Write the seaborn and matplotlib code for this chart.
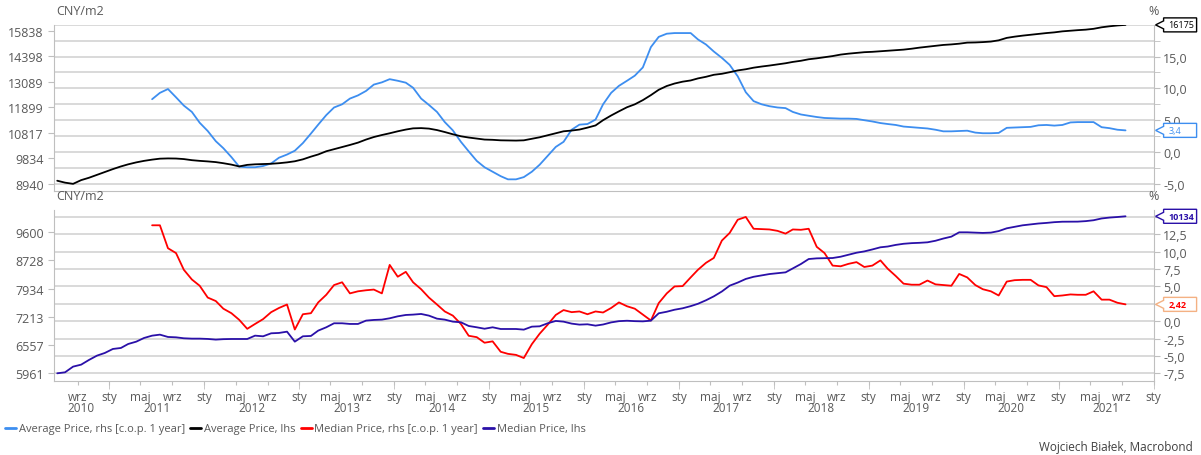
import numpy as np
import pandas as pd
import seaborn as sns
import matplotlib.pyplot as plt
import matplotlib.dates as mdates
from matplotlib.patches import Polygon
from matplotlib.lines import Line2D
from matplotlib.transforms import IdentityTransform, blended_transform_factory
from matplotlib.ticker import FixedLocator, FixedFormatter, MultipleLocator, FuncFormatter, NullLocator

sns.set_style('white')
plt.rcParams['font.family'] = ['Open Sans', 'DejaVu Sans']

# monthly data, Jun 2010 - Sep 2021
dates = pd.date_range('2010-06-01', periods=136, freq='MS') + pd.Timedelta(days=14)

avg_price = [
    9050, 8985, 8945, 9070, 9150, 9250, 9350, 9450, 9545, 9620,
    9690, 9745, 9790, 9825, 9834, 9830, 9810, 9770, 9745, 9725,
    9700, 9660, 9610, 9545, 9600, 9620, 9630, 9640, 9660, 9690,
    9730, 9800, 9900, 9980, 10100, 10180, 10260, 10340, 10430, 10550,
    10650, 10730, 10800, 10880, 10950, 11000, 11010, 10990, 10930, 10850,
    10760, 10680, 10630, 10590, 10550, 10540, 10520, 10515, 10510, 10520,
    10580, 10640, 10720, 10800, 10880, 10910, 10950, 11030, 11120, 11340,
    11540, 11720, 11900, 12030, 12220, 12450, 12700, 12880, 13000, 13090,
    13150, 13250, 13330, 13430, 13480, 13560, 13650, 13710, 13790, 13850,
    13900, 13960, 14020, 14090, 14150, 14230, 14280, 14340, 14400, 14480,
    14530, 14570, 14610, 14630, 14660, 14690, 14720, 14750, 14800, 14860,
    14910, 14960, 15010, 15040, 15080, 15140, 15150, 15170, 15200, 15270,
    15410, 15480, 15540, 15590, 15640, 15690, 15730, 15790, 15830, 15860,
    15890, 15940, 16030, 16090, 16140, 16175,
]

# y/y change, from Jun 2011
avg_yoy = [
    8.3, 9.3, 9.9, 8.6, 7.3, 6.3, 4.6, 3.3, 1.7, 0.6,
    -0.8, -2.3, -2.4, -2.4, -2.2, -1.8, -0.9, -0.4, 0.2, 1.4,
    2.9, 4.3, 5.8, 7.0, 7.5, 8.4, 8.9, 9.6, 10.6, 10.95,
    11.45, 11.2, 10.9, 10.1, 8.4, 7.4, 6.3, 4.7, 3.4, 1.6,
    0.1, -1.4, -2.4, -3.1, -3.8, -4.3, -4.3, -3.95, -3.1, -2.0,
    -0.6, 0.8, 1.6, 3.5, 4.3, 4.4, 5.1, 7.5, 9.3, 10.4,
    11.2, 12.0, 13.3, 16.5, 18.1, 18.6, 18.7, 18.7, 18.7, 17.7,
    16.9, 15.8, 14.8, 13.7, 11.9, 9.4, 8.0, 7.5, 7.2, 7.0,
    6.9, 6.3, 5.9, 5.7, 5.5, 5.35, 5.3, 5.25, 5.25, 5.2,
    5.0, 4.8, 4.55, 4.4, 4.25, 4.0, 3.9, 3.8, 3.7, 3.5,
    3.25, 3.25, 3.3, 3.35, 3.05, 2.95, 2.95, 3.0, 3.8, 3.85,
    3.9, 3.95, 4.2, 4.25, 4.15, 4.25, 4.65, 4.7, 4.7, 4.7,
    3.9, 3.75, 3.5, 3.4,
]

median_price = [
    5961, 5981, 6097, 6138, 6236, 6328, 6385, 6472, 6494, 6582,
    6634, 6717, 6770, 6793, 6740, 6732, 6710, 6702, 6702, 6695,
    6680, 6690, 6694, 6694, 6694, 6770, 6755, 6824, 6832, 6862,
    6634, 6755, 6763, 6886, 6964, 7059, 7059, 7043, 7043, 7123,
    7139, 7147, 7179, 7227, 7260, 7269, 7285, 7244, 7170, 7147,
    7098, 7083, 6995, 6964, 6930, 6964, 6924, 6924, 6924, 6909,
    6979, 6987, 7059, 7115, 7098, 7051, 7027, 7035, 7003, 7030,
    7080, 7110, 7120, 7110, 7105, 7122, 7301, 7340, 7390, 7426,
    7480, 7540, 7630, 7732, 7860, 8016, 8100, 8200, 8260, 8300,
    8337, 8360, 8385, 8499, 8624, 8771, 8791, 8796, 8801, 8840,
    8900, 8960, 9000, 9060, 9126, 9150, 9200, 9235, 9255, 9265,
    9281, 9330, 9400, 9461, 9600, 9600, 9590, 9580, 9590, 9640,
    9731, 9780, 9830, 9860, 9890, 9910, 9935, 9950, 9953, 9953,
    9970, 10000, 10060, 10090, 10110, 10134,
]

median_yoy = [
    13.8, 13.8, 10.5, 9.8, 7.4, 6.0, 5.1, 3.4, 2.9, 1.8,
    1.15, 0.2, -1.1, -0.4, 0.3, 1.3, 1.9, 2.4, -1.2, 1.0,
    1.15, 2.7, 3.8, 5.2, 5.6, 4.0, 4.3, 4.45, 4.55, 4.0,
    8.1, 6.4, 7.1, 5.6, 4.6, 3.4, 2.4, 1.4, 0.8, -0.4,
    -2.1, -2.3, -3.1, -2.9, -4.4, -4.7, -4.85, -5.3, -3.3, -1.8,
    -0.5, 0.9, 1.6, 1.3, 1.4, 1.0, 1.4, 1.25, 1.9, 2.7,
    2.15, 1.8, 0.95, 0.1, 2.6, 4.0, 5.0, 5.05, 6.3, 7.4,
    8.4, 9.1, 11.6, 12.7, 14.6, 15.0, 13.3, 13.25, 13.2, 13.0,
    12.6, 13.2, 13.15, 13.3, 10.7, 9.8, 8.0, 7.9, 8.25, 8.5,
    7.8, 8.0, 8.75, 7.55, 6.5, 5.4, 5.25, 5.25, 5.85, 5.3,
    5.2, 5.1, 6.8, 6.3, 5.2, 4.6, 4.3, 3.7, 5.7, 5.9,
    5.95, 5.95, 5.15, 4.9, 3.6, 3.7, 3.85, 3.8, 3.8, 4.3,
    3.1, 3.1, 2.65, 2.42,
]

left_ticks_top = [8940, 9834, 10817, 11899, 13089, 14398, 15838]
left_ticks_bot = [5961, 6557, 7213, 7934, 8728, 9600]
month_names = {1: 'sty', 5: 'maj', 9: 'wrz'}

labels = ['Average Price, rhs [c.o.p. 1 year]', 'Average Price, lhs',
          'Median Price, rhs [c.o.p. 1 year]', 'Median Price, lhs']
colors = ['#3d8ef0', '#000000', '#ff0000', '#2a10a8']

pad = [np.nan] * 12
df = pd.DataFrame({
    'date': dates,
    'avg_price': avg_price,
    'avg_yoy': pad + avg_yoy,
    'median_price': median_price,
    'median_yoy': pad + median_yoy,
})

W, H = 1201, 456
fig = plt.figure(figsize=(W / 100, H / 100), dpi=100)
gray = '#bfbfbf'
txt = '#595959'

def px_axes(top, bottom):
    return fig.add_axes([53.6 / W, 1 - bottom / H, 1100 / W, (bottom - top) / H])

ax_t = px_axes(25.8, 192.3)
ax_b = px_axes(211.0, 382.3)

xmin, xmax = pd.Timestamp('2010-06-01'), pd.Timestamp('2022-01-01')
x0, x1 = mdates.date2num(xmin), mdates.date2num(xmax)

panels = [
    (ax_t, 'avg_yoy', 'avg_price', colors[0], colors[1], (-6.18, 20.0), (8700, 16180), left_ticks_top, 5.0),
    (ax_b, 'median_yoy', 'median_price', colors[2], colors[3], (-8.65, 16.0), (5802, 10352), left_ticks_bot, 2.5),
]

def pct_formatter(ax, hidden_px):
    # rhs labels that sit under a value callout are left blank
    def fmt(v, p):
        y = ax.transData.transform((x1, v))[1]
        if any(abs(y - h) < 8 for h in hidden_px):
            return ''
        return f'{v:.1f}'.replace('.', ',')
    return FuncFormatter(fmt)

lhs_axes = []
for ax, rcol, lcol, rc, lc, rlim, llim, lticks, rstep in panels:
    # rhs (%) on the main axes so its grid sits underneath everything
    sns.lineplot(data=df, x='date', y=rcol, ax=ax, color=rc, lw=1.3, legend=False)
    axl = ax.twinx()
    sns.lineplot(data=df, x='date', y=lcol, ax=axl, color=lc, lw=1.3, legend=False)

    ax.set_ylim(*rlim)
    ax.set_xlim(xmin, xmax)
    ax.yaxis.tick_right()
    ax.yaxis.set_major_locator(MultipleLocator(rstep))
    ax.yaxis.set_minor_locator(MultipleLocator(2.5))
    ax.grid(axis='y', which='both', color='#d9d9d9', lw=1.4)
    ax.grid(axis='x', visible=False)
    ax.tick_params(axis='y', which='both', left=False, right=True, labelleft=False,
                   labelright=True, direction='out', length=4,
                   color=gray, labelcolor=txt, labelsize=9, pad=3)
    ax.set_xlabel('')
    ax.set_ylabel('')
    for s in ['top', 'left']:
        ax.spines[s].set_visible(False)
    for s in ['right', 'bottom']:
        ax.spines[s].set_color(gray)

    axl.set_yscale('log')
    axl.set_ylim(*llim)
    axl.set_xlim(xmin, xmax)
    axl.yaxis.tick_left()
    axl.yaxis.set_major_locator(FixedLocator(lticks))
    axl.yaxis.set_major_formatter(FixedFormatter([str(v) for v in lticks]))
    axl.yaxis.set_minor_locator(NullLocator())
    axl.tick_params(axis='y', left=True, right=False, labelleft=True, labelright=False,
                    direction='out', length=4, color=gray, labelcolor=txt, labelsize=9, pad=3)
    axl.set_ylabel('')
    for s in ['top', 'right', 'bottom']:
        axl.spines[s].set_visible(False)
    axl.spines['left'].set_color(gray)
    lhs_axes.append(axl)

    hidden = [ax.transData.transform((x1, df[rcol].iloc[-1]))[1],
              axl.transData.transform((x1, df[lcol].iloc[-1]))[1]]
    ax.yaxis.set_major_formatter(pct_formatter(ax, hidden))

    fig.text(ax.get_position().x0 + 3 / W, ax.get_position().y1 + 14 / H, 'CNY/m2',
             fontsize=9, color=txt, ha='left', va='center')
    fig.text(ax.get_position().x1, ax.get_position().y1 + 14 / H, '%',
             fontsize=9, color=txt, ha='center', va='center')

for a in [ax_t] + lhs_axes:
    a.tick_params(axis='x', which='both', bottom=False, labelbottom=False)

# month ticks on the lower panel
ax_b.xaxis.remove_overlapping_locs = False
ax_b.xaxis.set_major_locator(mdates.MonthLocator(bymonth=[1, 5, 9]))
ax_b.xaxis.set_major_formatter(FuncFormatter(lambda v, p: month_names[mdates.num2date(v).month]))
ax_b.xaxis.set_minor_locator(mdates.MonthLocator(bymonth=[1]))
ax_b.tick_params(axis='x', which='major', bottom=True, length=3, color=gray,
                 labelcolor=txt, labelsize=8.5, pad=3)
ax_b.tick_params(axis='x', which='minor', bottom=True, length=6, color=gray)

trans = blended_transform_factory(ax_b.transData, ax_b.transAxes)
for yr in range(2010, 2022):
    a = max(mdates.date2num(pd.Timestamp(f'{yr}-01-01')), x0)
    b = min(mdates.date2num(pd.Timestamp(f'{yr + 1}-01-01')), x1)
    ax_b.text((a + b) / 2, -26 / 171.3, str(yr), transform=trans, ha='center',
              va='center', fontsize=8.5, color=txt)

# value callouts at the right edge
def callout(ax, value, text, edge, tcolor, weight):
    xr = ax.transAxes.transform((1, 0))[0]
    y = ax.transData.transform((x1, value))[1]
    tip, b0, b1, h = xr + 2, xr + 10, xr + 43, 7
    pts = [(tip, y), (b0, y + 4), (b0, y + h), (b1, y + h), (b1, y - h), (b0, y - h), (b0, y - 4)]
    fig.patches.append(Polygon(pts, closed=True, transform=IdentityTransform(),
                               facecolor='white', edgecolor=edge, lw=1.0, figure=fig))
    fig.text((b0 + 5) / W, y / H, text, fontsize=6.5, color=tcolor, weight=weight,
             ha='left', va='center')

callout(lhs_axes[0], avg_price[-1], str(avg_price[-1]), '#000000', '#000000', 'normal')
callout(ax_t, avg_yoy[-1], f'{avg_yoy[-1]:.1f}'.replace('.', ','), colors[0], colors[0], 'normal')
callout(lhs_axes[1], median_price[-1], str(median_price[-1]), colors[3], colors[3], 'bold')
callout(ax_b, median_yoy[-1], f'{median_yoy[-1]:.2f}'.replace('.', ','), '#f4b183', colors[2], 'bold')

handles = [Line2D([], [], color=c, lw=2) for c in colors]
fig.legend(handles, labels, loc='center left', bbox_to_anchor=(3 / W, 1 - 430 / H),
           ncol=4, frameon=False, fontsize=8, handlelength=1.0, handletextpad=0.2,
           columnspacing=0.5, labelcolor=txt, borderaxespad=0, borderpad=0.2)

fig.text(1193 / W, 1 - 448 / H, 'Wojciech Białek, Macrobond', fontsize=8.5,
         color='#404040', ha='right', va='center')

fig.savefig('out.png', dpi=100)
